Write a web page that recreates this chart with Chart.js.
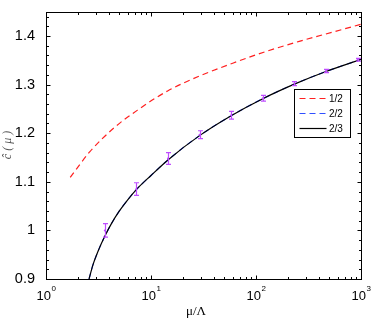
<!DOCTYPE html>
<html>
<head>
<meta charset="utf-8">
<script src="https://cdn.jsdelivr.net/npm/chart.js@4.4.1/dist/chart.umd.min.js"></script>
<style>
html, body { margin: 0; padding: 0; background: #fff; }
</style>
</head>
<body>
<canvas id="chart" width="376" height="322"></canvas>
<script>
// 曲線 1/2
const mu12 = [1.7, 2.62, 4.5, 7.5, 14.4, 30, 60, 124, 258, 537, 1000];
const c12 = [1.109, 1.162, 1.212, 1.248, 1.287, 1.319, 1.344, 1.368, 1.389, 1.408, 1.424];
// 曲線 2/3 (2/2 はその下にほぼ重なっている)
const mu23 = [2.57, 2.8, 3.2, 3.63, 4.2, 5, 6, 7.25, 10, 14.5, 29, 58, 116, 232, 464, 1000];
const c23 = [0.9, 0.929, 0.962, 0.988, 1.014, 1.04, 1.063, 1.084, 1.113, 1.145, 1.195, 1.236, 1.271, 1.301, 1.327, 1.352];
const mu22 = mu23;
const c22 = c23;
// 誤差棒つきデータ点
const muPts = [3.63, 7.25, 14.5, 29, 58, 116, 232, 464, 928];
const cPts = [1.0, 1.085, 1.148, 1.197, 1.237, 1.272, 1.302, 1.328, 1.351];
const cErr = [0.014, 0.013, 0.012, 0.008, 0.008, 0.006, 0.004, 0.0035, 0.003];
// 目盛り
const xTicks = [1, 10, 100, 1000];
const xTickExp = ["0", "1", "2", "3"];
const yTicks = [0.9, 1, 1.1, 1.2, 1.3, 1.4];
const yTickLabels = ["0.9", "1", "1.1", "1.2", "1.3", "1.4"];

const pointColor = "#bf4dff";
const sansFont = "'Liberation Sans', Arial, sans-serif";
const serifFont = "'Liberation Serif', 'Times New Roman', serif";

function toXY(xs, ys) {
    return xs.map(function (v, i) {
        return { x: v, y: ys[i] };
    });
}

const legendItems = [
    { label: "1/2", color: "#ff2020", dash: [6, 4] },
    { label: "2/2", color: "#3050ff", dash: [6, 4] },
    { label: "2/3", color: "#000000", dash: [] },
];

// 枠・内向き目盛り・凡例・軸タイトル
const decorPlugin = {
    id: "decor",
    afterDatasetsDraw(chart) {
        const ctx = chart.ctx;
        const x = chart.scales.x;
        const y = chart.scales.y;
        ctx.save();
        ctx.strokeStyle = pointColor;
        ctx.lineWidth = 1.2;
        for (let i = 0; i < muPts.length; i++) {
            const px = Math.round(x.getPixelForValue(muPts[i])) + 0.5;
            const top = y.getPixelForValue(cPts[i] + cErr[i]);
            const bot = y.getPixelForValue(cPts[i] - cErr[i]);
            ctx.beginPath();
            ctx.moveTo(px, top);
            ctx.lineTo(px, bot);
            ctx.moveTo(px - 2.5, top);
            ctx.lineTo(px + 2.5, top);
            ctx.moveTo(px - 2.5, bot);
            ctx.lineTo(px + 2.5, bot);
            ctx.stroke();
        }
        ctx.restore();
    },
    afterDraw(chart) {
        const ctx = chart.ctx;
        const a = chart.chartArea;
        const x = chart.scales.x;
        const y = chart.scales.y;
        const L = Math.round(a.left) + 0.5;
        const R = Math.round(a.right) + 0.5;
        const T = Math.round(a.top) + 0.5;
        const B = Math.round(a.bottom) + 0.5;
        ctx.save();

        // 枠
        ctx.strokeStyle = "#000";
        ctx.lineWidth = 1;
        ctx.strokeRect(L, T, R - L, B - T);

        // x 目盛り (上下)
        ctx.beginPath();
        for (let d = 0; d < 3; d++) {
            for (let k = 1; k <= 9; k++) {
                const v = k * Math.pow(10, d);
                const px = Math.round(x.getPixelForValue(v)) + 0.5;
                const len = k === 1 ? 4 : 2.5;
                ctx.moveTo(px, B);
                ctx.lineTo(px, B - len);
                ctx.moveTo(px, T);
                ctx.lineTo(px, T + len);
            }
        }
        // y 目盛り (左右)
        for (let j = 0; j <= 27; j++) {
            const v = 0.9 + j * 0.02;
            const py = Math.round(y.getPixelForValue(v)) + 0.5;
            const len = j % 5 === 0 ? 4 : 2.5;
            ctx.moveTo(L, py);
            ctx.lineTo(L + len, py);
            ctx.moveTo(R, py);
            ctx.lineTo(R - len, py);
        }
        ctx.stroke();

        // x 目盛りラベル 10^n
        ctx.fillStyle = "#000";
        ctx.textBaseline = "alphabetic";
        ctx.textAlign = "left";
        for (let i = 0; i < xTicks.length; i++) {
            const px = x.getPixelForValue(xTicks[i]);
            ctx.font = "13px " + sansFont;
            const w1 = ctx.measureText("10").width;
            ctx.font = "8px " + sansFont;
            const w2 = ctx.measureText(xTickExp[i]).width;
            const start = px - (w1 + w2) / 2;
            ctx.font = "13px " + sansFont;
            ctx.fillText("10", start, 300);
            ctx.font = "8px " + sansFont;
            ctx.fillText(xTickExp[i], start + w1 + 0.5, 291);
        }

        // x 軸タイトル
        ctx.font = "13px " + serifFont;
        ctx.textAlign = "center";
        ctx.fillText("μ/Λ", 196, 315);

        // y 軸タイトル
        ctx.save();
        ctx.translate(8, 145);
        ctx.rotate(-Math.PI / 2);
        ctx.fillStyle = "#555";
        ctx.font = "italic 12px " + serifFont;
        ctx.letterSpacing = "3px";
        ctx.textBaseline = "middle";
        ctx.fillText("ĉ(μ)", 1.5, 0);
        ctx.restore();

        // 凡例
        const bx = Math.round(a.right) - 66.5;
        const by = Math.round(a.top) + 77.5;
        ctx.fillStyle = "#fff";
        ctx.fillRect(bx, by, 56, 48);
        ctx.strokeStyle = "#000";
        ctx.lineWidth = 1;
        ctx.strokeRect(bx, by, 56, 48);
        ctx.font = "10px " + sansFont;
        ctx.textAlign = "left";
        ctx.textBaseline = "middle";
        for (let i = 0; i < legendItems.length; i++) {
            const ly = by + 9 + i * 15;
            ctx.beginPath();
            ctx.strokeStyle = legendItems[i].color;
            ctx.lineWidth = 1.2;
            ctx.setLineDash(legendItems[i].dash);
            ctx.moveTo(bx + 5, ly);
            ctx.lineTo(bx + 32, ly);
            ctx.stroke();
            ctx.setLineDash([]);
            ctx.fillStyle = "#000";
            ctx.fillText(legendItems[i].label, bx + 34.5, ly + 0.5);
        }
        ctx.restore();
    },
};

// 先頭のデータセットが一番上に描かれる
new Chart(document.getElementById("chart"), {
    type: "scatter",
    data: {
        datasets: [
            {
                label: "data",
                data: toXY(muPts, cPts),
                pointRadius: 1,
                pointBorderWidth: 0,
                backgroundColor: pointColor,
            },
            {
                label: "2/3",
                data: toXY(mu23, c23),
                showLine: true,
                borderColor: "#000",
                borderWidth: 1.2,
                pointRadius: 0,
                cubicInterpolationMode: "monotone",
            },
            {
                label: "2/2",
                data: toXY(mu22, c22),
                showLine: true,
                borderColor: "#3050ff",
                borderDash: [6, 4],
                borderWidth: 1.2,
                pointRadius: 0,
                cubicInterpolationMode: "monotone",
            },
            {
                label: "1/2",
                data: toXY(mu12, c12),
                showLine: true,
                borderColor: "#ff2020",
                borderDash: [6, 4],
                borderWidth: 1.2,
                pointRadius: 0,
                cubicInterpolationMode: "monotone",
            },
        ],
    },
    options: {
        responsive: false,
        animation: false,
        layout: { padding: { left: 0, right: 15, top: 8, bottom: 0 } },
        plugins: {
            legend: { display: false },
            tooltip: { enabled: false },
        },
        scales: {
            x: {
                type: "logarithmic",
                min: 1,
                max: 1000,
                grid: { display: false },
                border: { display: false },
                ticks: { display: false },
                afterFit: function (s) {
                    s.height = 43;
                },
            },
            y: {
                type: "linear",
                min: 0.9,
                max: 1.45,
                grid: { display: false },
                border: { display: false },
                afterBuildTicks: function (s) {
                    s.ticks = yTicks.map(function (v) {
                        return { value: v };
                    });
                },
                ticks: {
                    callback: function (v, i) {
                        return yTickLabels[i];
                    },
                    font: { family: sansFont, size: 14.5 },
                    color: "#000",
                    padding: 3,
                },
                afterFit: function (s) {
                    s.width = 46;
                },
            },
        },
    },
    plugins: [decorPlugin],
});
</script>
</body>
</html>
